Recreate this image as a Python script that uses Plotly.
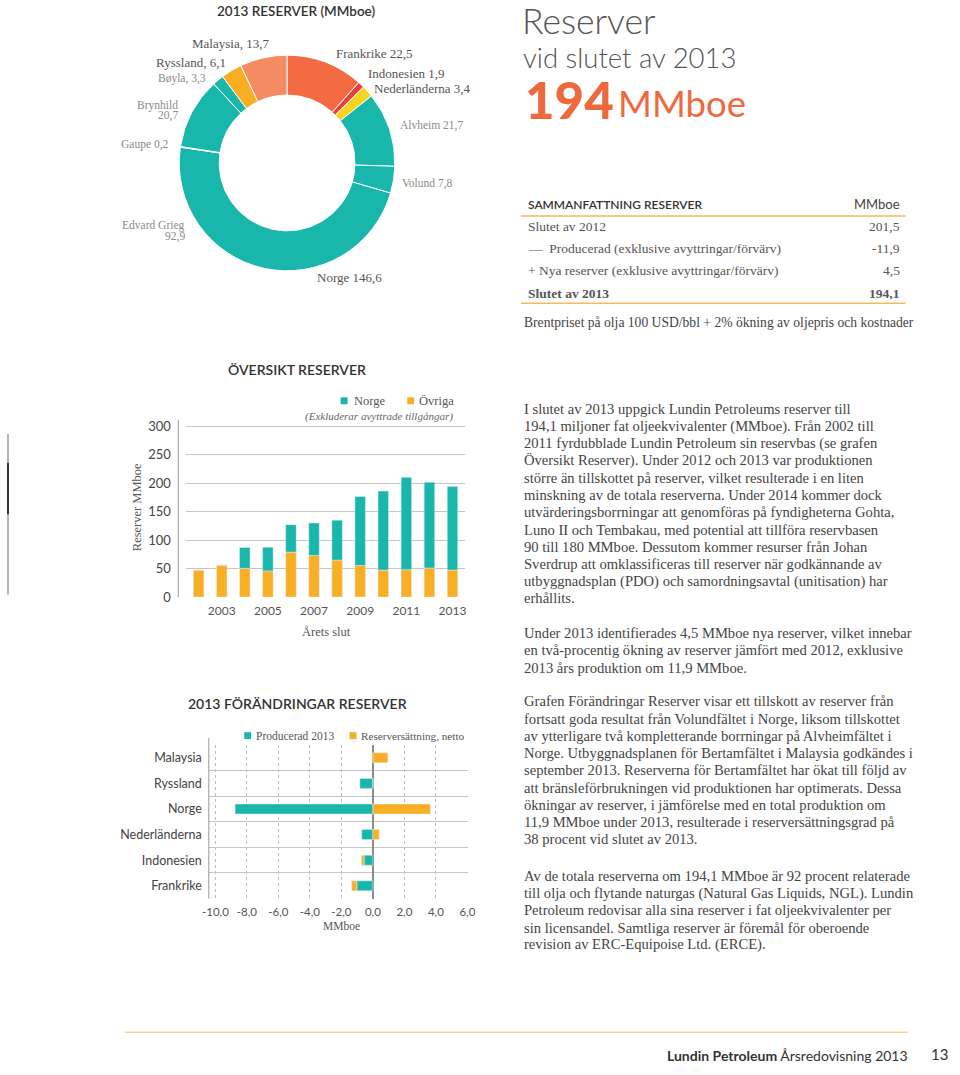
import plotly.graph_objects as go

# ---------------- DATA ----------------
pie_labels = ["Frankrike", "Indonesien", "Nederländerna", "Alvheim", "Volund",
              "Edvard Grieg", "Gaupe", "Brynhild", "Bøyla", "Ryssland", "Malaysia"]
pie_values = [22.5, 1.9, 3.4, 21.7, 7.8, 92.9, 0.2, 20.7, 3.3, 6.1, 13.7]

years = [2002, 2003, 2004, 2005, 2006, 2007, 2008, 2009, 2010, 2011, 2012, 2013]
ovriga = [47.5, 56, 50.5, 46, 79, 73, 65, 55.5, 47.5, 48, 51, 47.5]
norge = [0, 0, 36.5, 41.5, 48, 57, 70, 121, 138.5, 162, 150.5, 146.6]
year_ticks = [2003, 2005, 2007, 2009, 2011, 2013]
res_ticks = [0, 50, 100, 150, 200, 250, 300]

countries = ["Malaysia", "Ryssland", "Norge", "Nederländerna", "Indonesien", "Frankrike"]
producerad = [0, -0.83, -8.75, -0.71, -0.56, -1.02]
ersattning = [0.95, 0, 3.65, 0.40, -0.17, -0.33]
chg_ticks = [-10, -8, -6, -4, -2, 0, 2, 4, 6]
chg_ticktext = ["-10,0", "-8,0", "-6,0", "-4,0", "-2,0", "0,0", "2,0", "4,0", "6,0"]

summary_rows = ["Slutet av 2012", "—  Producerad (exklusive avyttringar/förvärv)",
                "+ Nya reserver (exklusive avyttringar/förvärv)", "<b>Slutet av 2013</b>"]
summary_vals = ["201,5", "-11,9", "4,5", "<b>194,1</b>"]

# ---------------- STYLE ----------------
W, H = 960, 1075
SERIF = "Liberation Serif"
SANS = "Lato"
TEAL = "#19B6AB"
ORANGE = "#F8AF24"
pie_colors = ["#F26B43", "#E8403A", "#F7D51E", TEAL, TEAL, TEAL, TEAL, TEAL, TEAL,
              "#F8AD22", "#F58B63"]


def X(p):
    return p / W


def Y(p):
    return 1 - p / H


fig = go.Figure()

fig.add_trace(go.Pie(
    labels=pie_labels, values=pie_values, sort=False, direction="clockwise",
    rotation=0, hole=0.63, textinfo="none", showlegend=False,
    marker=dict(colors=pie_colors, line=dict(color="white", width=1)),
    domain=dict(x=[X(175), X(394)], y=[Y(272), Y(53)]),
))

fig.add_trace(go.Bar(x=years, y=ovriga, name="Övriga", marker_color=ORANGE,
                     width=0.456, xaxis="x", yaxis="y", showlegend=False))
fig.add_trace(go.Bar(x=years, y=norge, name="Norge", marker_color=TEAL,
                     width=0.456, xaxis="x", yaxis="y", showlegend=False))

fig.add_trace(go.Bar(y=countries, x=producerad, orientation="h", name="Producerad 2013",
                     marker_color=TEAL, width=0.39, xaxis="x2", yaxis="y2", showlegend=False))
fig.add_trace(go.Bar(y=countries, x=ersattning, orientation="h", name="Reserversättning, netto",
                     marker_color=ORANGE, width=0.39, xaxis="x2", yaxis="y2", showlegend=False))

ann = []


def txt(x, y, s, size, color="#444", family=SERIF, xanchor="left", yanchor="middle",
        weight=None, **kw):
    f = dict(size=size, color=color, family=family)
    if weight:
        f["weight"] = weight
    ann.append(dict(x=X(x), y=Y(y), xref="paper", yref="paper", text=s, showarrow=False,
                    xanchor=xanchor, yanchor=yanchor, font=f, **kw))


# donut title & labels
txt(294, 9, "2013 RESERVER (MMboe)", 13.5, "#333", SANS, "center", weight=600)
CL = "#555"
FL = "#8a8a8a"
txt(227, 42, "Malaysia, 13,7", 13, CL, xanchor="center")
txt(187, 61, "Ryssland, 6,1", 13, CL, xanchor="center")
txt(178, 77, "Bøyla, 3,3", 11.5, FL, xanchor="center")
txt(176, 104, "Brynhild", 11.5, FL, xanchor="right")
txt(176, 115, "20,7", 11.5, FL, xanchor="right")
txt(167, 144, "Gaupe 0,2", 11.5, FL, xanchor="right")
txt(183, 226, "Edvard Grieg", 11.5, FL, xanchor="right")
txt(183, 237, "92,9", 11.5, FL, xanchor="right")
txt(348, 278, "Norge 146,6", 13, CL, xanchor="center")
txt(332, 52, "Frankrike 22,5", 13, CL)
txt(365, 72, "Indonesien 1,9", 13, CL)
txt(371, 87, "Nederländerna 3,4", 13, CL)
txt(397, 125, "Alvheim 21,7", 11.5, FL)
txt(399, 183, "Volund 7,8", 11.5, FL)

# headline
txt(521, 19, "Reserver", 35.5, "#555", SANS, weight=300)
txt(522, 56, "vid slutet av 2013", 27.5, "#555", SANS, weight=300)
txt(524, 98, "194", 51, "#EE6A3E", SANS, weight=900)
txt(619, 102, "MMboe", 36.5, "#EE6A3E", SANS)

# summary table
txt(527, 204, "SAMMANFATTNING RESERVER", 12, "#333", SANS, weight=600)
txt(909, 204, "MMboe", 13, "#444", SANS, "right")
row_y = [227, 249, 271, 294]
for ry, lab, val in zip(row_y, summary_rows, summary_vals):
    txt(527, ry, lab, 13.5, "#555")
    txt(909, ry, val, 13.5, "#555", xanchor="right")
txt(523, 324, "Brentpriset på olja 100 USD/bbl + 2% ökning av oljepris och kostnader", 13.6, "#444")

# paragraphs (one annotation per printed line)
LS = 17.4
paras = [
    (410.7, ["I slutet av 2013 uppgick Lundin Petroleums reserver till",
             "194,1 miljoner fat oljeekvivalenter (MMboe). Från 2002 till",
             "2011 fyrdubblade Lundin Petroleum sin reservbas (se grafen",
             "Översikt Reserver). Under 2012 och 2013 var produktionen",
             "större än tillskottet på reserver, vilket resulterade i en liten",
             "minskning av de totala reserverna. Under 2014 kommer dock",
             "utvärderingsborrningar att genomföras på fyndigheterna Gohta,",
             "Luno II och Tembakau, med potential att tillföra reservbasen",
             "90 till 180 MMboe. Dessutom kommer resurser från Johan",
             "Sverdrup att omklassificeras till reserver när godkännande av",
             "utbyggnadsplan (PDO) och samordningsavtal (unitisation) har",
             "erhållits."]),
    (637, ["Under 2013 identifierades 4,5 MMboe nya reserver, vilket innebar",
           "en två-procentig ökning av reserver jämfört med 2012, exklusive",
           "2013 års produktion om 11,9 MMboe."]),
    (706, ["Grafen Förändringar Reserver visar ett tillskott av reserver från",
           "fortsatt goda resultat från Volundfältet i Norge, liksom tillskottet",
           "av ytterligare två kompletterande borrningar på Alvheimfältet i",
           "Norge. Utbyggnadsplanen för Bertamfältet i Malaysia godkändes i",
           "september 2013. Reserverna för Bertamfältet har ökat till följd av",
           "att bränsleförbrukningen vid produktionen har optimerats. Dessa",
           "ökningar av reserver, i jämförelse med en total produktion om",
           "11,9 MMboe under 2013, resulterade i reserversättningsgrad på",
           "38 procent vid slutet av 2013."]),
    (882, ["Av de totala reserverna om 194,1 MMboe är 92 procent relaterade",
           "till olja och flytande naturgas (Natural Gas Liquids, NGL). Lundin",
           "Petroleum redovisar alla sina reserver i fat oljeekvivalenter per",
           "sin licensandel. Samtliga reserver är föremål för oberoende",
           "revision av ERC-Equipoise Ltd. (ERCE)."]),
]
for y0, lines in paras:
    for i, ln in enumerate(lines):
        txt(523, y0 + i * LS, ln, 14.6, "#444")

# bar chart texts
txt(295, 371, "ÖVERSIKT RESERVER", 14, "#333", SANS, "center", weight=600)
txt(350, 402.5, "Norge", 12.5, "#555")
txt(417, 402.5, "Övriga", 12.5, "#555")
txt(378, 418, "<i>(Exkluderar avyttrade tillgångar)</i>", 11, "#666", xanchor="center")
txt(132, 510, "Reserver MMboe", 12.5, "#555", xanchor="center", textangle=-90)
txt(325, 636, "Årets slut", 12.5, "#555", xanchor="center")

# hbar texts
txt(295, 708, "2013 FÖRÄNDRINGAR RESERVER", 14, "#333", SANS, "center", weight=600)
txt(251, 740.5, "Producerad 2013", 11.5, "#555")
txt(358, 740.5, "Reserversättning, netto", 11.2, "#555")
txt(340, 932.5, "MMboe", 11.5, "#555", xanchor="center")

# footer
txt(917, 1063, "<b>Lundin Petroleum</b> Årsredovisning 2013", 14, "#333", SANS, "right")
txt(958, 1062, "13", 15, "#333", SANS, "right")

shapes = []


def line(x0, y0, x1, y1, color, width=1):
    shapes.append(dict(type="line", xref="paper", yref="paper", x0=X(x0), y0=Y(y0),
                       x1=X(x1), y1=Y(y1), line=dict(color=color, width=width)))


def rect(x0, y0, x1, y1, color):
    shapes.append(dict(type="rect", xref="paper", yref="paper", x0=X(x0), y0=Y(y0),
                       x1=X(x1), y1=Y(y1), fillcolor=color, line=dict(width=0)))


line(522, 216, 913, 216, "#F2BB5E", 1.5)
line(522, 304, 913, 304, "#F2BB5E", 1.5)
line(120, 1040, 915, 1040, "#F3D38C", 1.5)
line(174, 421.7, 174, 600.7, "#999", 1)
line(205, 743, 205, 905, "#999", 1)
rect(339, 399, 346, 406, TEAL)
rect(406.5, 399, 413.5, 406, ORANGE)
rect(241, 737, 248, 744, TEAL)
rect(348, 737, 355, 744, ORANGE)
# page-edge artefact
rect(0, 436, 2, 598, "#b5b5b5")
rect(0, 465, 2, 517, "#333")

fig.update_layout(
    width=W, height=H, margin=dict(l=0, r=0, t=0, b=0),
    paper_bgcolor="white", plot_bgcolor="rgba(0,0,0,0)",
    barmode="relative", showlegend=False,
    annotations=ann, shapes=shapes,
    xaxis=dict(domain=[X(181.7), X(465.7)], range=[2001.446, 2013.56], anchor="y",
               tickvals=year_ticks, showgrid=False, zeroline=False, showline=False,
               ticks="", ticklabelstandoff=5,
               tickfont=dict(family=SANS, size=12, color="#555")),
    yaxis=dict(domain=[Y(600.7), Y(421.7)], range=[0, 311], anchor="x",
               tickvals=res_ticks, showgrid=True, gridcolor="#c4c4c4", gridwidth=1,
               zeroline=False, showline=False, ticks="", ticklabelstandoff=14,
               tickfont=dict(family=SANS, size=13, color="#444")),
    xaxis2=dict(domain=[X(205), X(468)], range=[-10.42, 6.02], anchor="y2",
                tickvals=chg_ticks, ticktext=chg_ticktext, showgrid=True,
                griddash="dot", gridcolor="#bdbdbd", zeroline=True,
                zerolinecolor="#8c8c8c", zerolinewidth=1.5, showline=False, ticks="",
                ticklabelstandoff=5,
                tickfont=dict(family=SANS, size=11.5, color="#555")),
    yaxis2=dict(domain=[Y(905), Y(750)], range=[5.5, -0.5], anchor="x2",
                type="category", categoryorder="array", categoryarray=countries,
                tickson="boundaries", showgrid=True, gridcolor="#c4c4c4",
                zeroline=False, showline=False, ticks="", ticklabelstandoff=6,
                tickfont=dict(family=SANS, size=12.5, color="#444")),
)

fig.write_html("out.html", config={"displayModeBar": False},
               post_script="document.body.style.margin='0';"
                           "document.body.style.overflow='hidden';")
